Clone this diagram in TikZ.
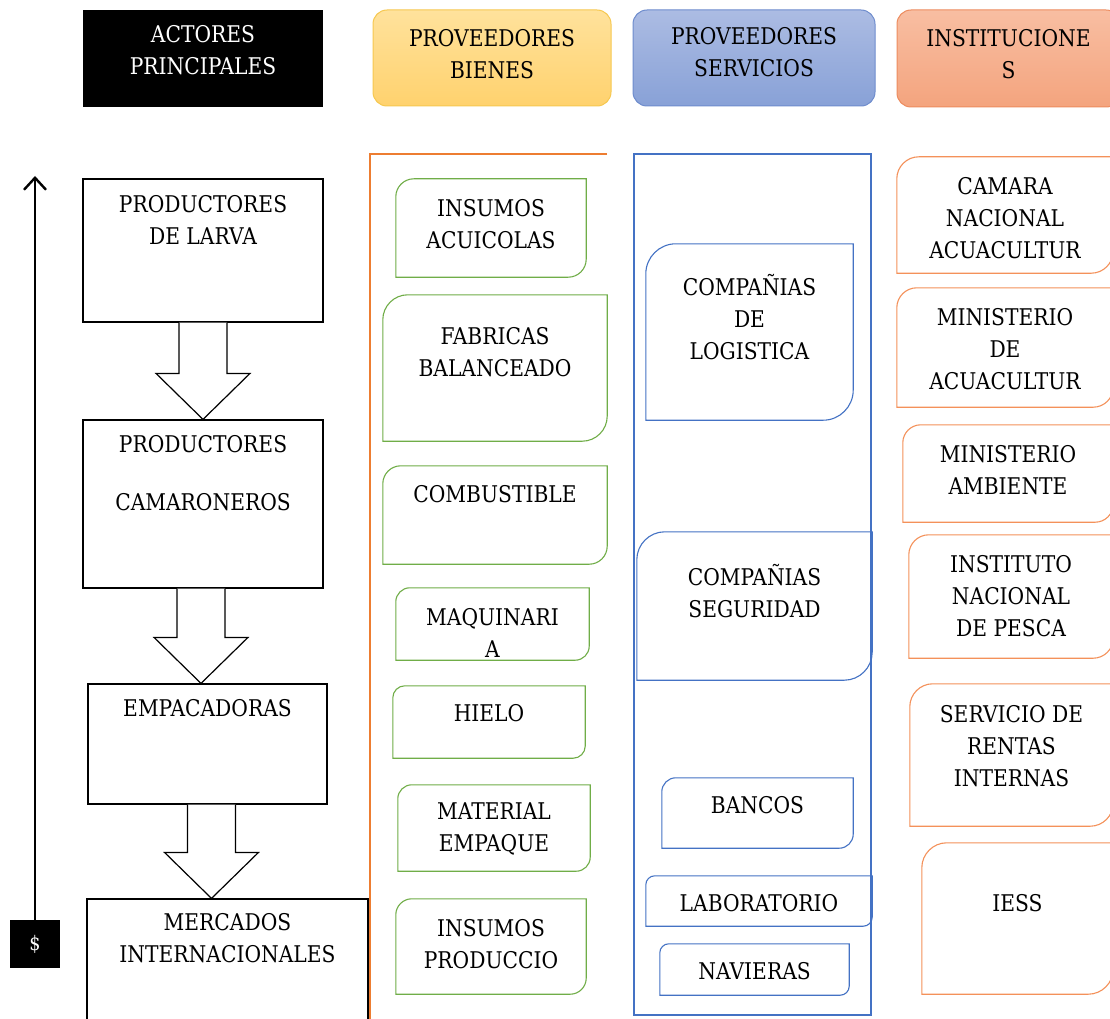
\documentclass[tikz,border=0pt]{standalone}
\usepackage{fontspec}
\setmainfont{DejaVu Serif}[FakeStretch=0.88]
\usetikzlibrary{calc,arrows.meta}

\definecolor{naranjo}{RGB}{237,125,49}
\definecolor{azulin}{RGB}{68,114,196}
\definecolor{verdin}{RGB}{112,173,71}
\definecolor{salmon}{RGB}{244,145,90}
\definecolor{amaA}{RGB}{255,226,156}
\definecolor{amaB}{RGB}{255,210,110}
\definecolor{amaL}{RGB}{246,200,80}
\definecolor{azuA}{RGB}{172,188,227}
\definecolor{azuB}{RGB}{136,161,215}
\definecolor{azuL}{RGB}{110,140,205}
\definecolor{narA}{RGB}{248,190,162}
\definecolor{narB}{RGB}{244,164,126}
\definecolor{narL}{RGB}{237,140,95}

\newcommand{\rotulo}{\fontsize{23}{32}\selectfont}

\begin{document}
\begin{tikzpicture}[
  x=1pt, y=-1pt,
  every label/.append style={align=center, inner sep=0pt, font=\rotulo},
  caja/.style 2 args={inner sep=0pt, minimum width=#1pt, minimum height=#2pt},
  actor/.style={draw, line width=1.2pt},
  titulo/.style={line width=1pt, rounded corners=14pt},
  gorda/.style={draw, fill=white, line width=1.2pt, line join=miter},
  verde/.style={draw=verdin, line width=1.1pt},
  azul/.style={draw=azulin, line width=1.1pt},
  naranja/.style={draw=salmon, line width=1.1pt}
  ]
  \useasboundingbox (0,0) rectangle (1110,1019);
  \fill[white] (0,0) rectangle (1110,1019);
  \clip (0,0) rectangle (1110,1019);

  % encabezados
  \node[caja={240}{97}, fill=black, label={[white,yshift=8pt]center:{ACTORES\\PRINCIPALES}}] (hact) at (203,58.5) {};
  \node[caja={238}{96}, titulo, top color=amaA, bottom color=amaB, draw=amaL, label={[yshift=4pt]center:{PROVEEDORES\\BIENES}}] (hbie) at (492,58) {};
  \node[caja={242}{96}, titulo, top color=azuA, bottom color=azuB, draw=azuL, label={[yshift=5.5pt]center:{PROVEEDORES\\SERVICIOS}}] (hser) at (754,58) {};
  \node[caja={223}{97}, titulo, top color=narA, bottom color=narB, draw=narL, label={[yshift=4.5pt]center:{INSTITUCIONE\\S}}] (hins) at (1008.5,58.5) {};

  % actores principales
  \node[caja={240}{143}, actor, label={[yshift=30.5pt]center:{PRODUCTORES\\DE LARVA}}] (larva) at (203,250.5) {};
  \node[caja={240}{168}, actor, label={[yshift=31pt]center:{PRODUCTORES\\[26pt]CAMARONEROS}}] (cama) at (203,504) {};
  \node[caja={239}{120}, actor, label={[yshift=36pt]center:EMPACADORAS}] (empa) at (207.5,744) {};
  \node[caja={281}{131}, actor, label={[yshift=26.5pt]center:{MERCADOS\\INTERNACIONALES}}] (merc) at (227.5,964.5) {};

  \foreach \a/\b/\dx in {larva/cama/0, cama/empa/-2, empa/merc/4}
    \draw[gorda] let \p1=([xshift=\dx pt]\a.south), \p2=(\b.north) in
      (\x1-24pt,\y1) -- (\x1-24pt,\y2+46pt) -- (\x1-47pt,\y2+46pt) -- (\x1,\y2)
      -- (\x1+47pt,\y2+46pt) -- (\x1+24pt,\y2+46pt) -- (\x1+24pt,\y1);

  \node[caja={50}{48}, fill=black, text=white, font=\fontsize{20}{24}\selectfont] (dolar) at (35,944) {\$};
  \coordinate (cima) at (35,176);
  \draw[line width=2.4pt, -{Straight Barb[length=12pt,width=22pt]}] (dolar) -- (cima);

  % columnas
  \draw[draw=naranjo, line width=1.4pt] (607,154) -- (370,154) -- (370,1025);
  \draw[draw=azulin, line width=1.4pt] (634,154) rectangle (871,1015);

  % proveedores bienes
  \node[caja={190}{98}, label={[yshift=4pt]center:{INSUMOS\\ACUICOLAS}}] (acui) at (491,228) {};
  \node[caja={224}{146}, label={[yshift=16pt]center:{FABRICAS\\BALANCEADO}}] (fabri) at (495,368) {};
  \node[caja={224}{98}, label={[yshift=21pt]center:COMBUSTIBLE}] (combus) at (495,515) {};
  \node[caja={193}{72}, label={[yshift=-9pt]center:{MAQUINARI\\A}}] (maqui) at (492.5,624) {};
  \node[caja={192}{72}, label={[yshift=9pt]center:HIELO}] (hielo) at (489,722) {};
  \node[caja={192}{86}, label={[yshift=-1pt]center:{MATERIAL\\EMPAQUE}}] (empaq) at (494,828) {};
  \node[caja={190}{95}, label={[yshift=2.5pt]center:{INSUMOS\\PRODUCCIO}}] (produc) at (491,946.5) {};

  % proveedores servicios
  \node[caja={207}{176}, label={[yshift=15pt]center:{COMPAÑIAS\\DE\\LOGISTICA}}] (logis) at (749.5,332) {};
  \node[caja={235}{148}, label={[yshift=15pt]center:{COMPAÑIAS\\SEGURIDAD}}] (segur) at (754.5,606) {};
  \node[caja={191}{70}, label={[yshift=8pt]center:BANCOS}] (bancos) at (757.5,813) {};
  \node[caja={226}{50}, label={[yshift=-2pt]center:LABORATORIO}] (labo) at (759,901) {};
  \node[caja={189}{51}, label={[yshift=-1.5pt]center:NAVIERAS}] (navi) at (754.5,969.5) {};

  % instituciones
  \node[caja={216}{116}, label={[yshift=-3pt]center:{CAMARA\\NACIONAL\\ACUACULTUR}}] (cnac) at (1005,215) {};
  \node[caja={216}{119}, label={[yshift=-1.5pt]center:{MINISTERIO\\DE\\ACUACULTUR}}] (mina) at (1005,347.5) {};
  \node[caja={210}{97}, label={[yshift=3.5pt]center:{MINISTERIO\\AMBIENTE}}] (mamb) at (1008,473.5) {};
  \node[caja={204}{123}, label={center:{INSTITUTO\\NACIONAL\\DE PESCA}}] (inp) at (1011,596.5) {};
  \node[caja={203}{142}, label={[yshift=9pt]center:{SERVICIO DE\\RENTAS\\INTERNAS}}] (sri) at (1011.5,755) {};
  \node[caja={191}{151}, label={[yshift=15.5pt]center:IESS}] (iess) at (1017.5,918.5) {};

  % marcos de esquinas redondeadas
  \foreach \n/\r/\c [evaluate=\r as \k using 0.45*\r] in {acui/18/verde, fabri/25/verde,
      combus/18/verde, maqui/14/verde, hielo/12/verde, empaq/14/verde, produc/16/verde,
      logis/30/azul, segur/28/azul, bancos/14/azul, labo/9/azul, navi/9/azul,
      cnac/22/naranja, mina/20/naranja, mamb/18/naranja, inp/20/naranja,
      sri/23/naranja, iess/25/naranja}
    \draw[\c] (\n.south west) -- ([yshift=-\r pt]\n.north west)
      .. controls ([yshift=-\k pt]\n.north west) and ([xshift=\k pt]\n.north west)
      .. ([xshift=\r pt]\n.north west)
      -- (\n.north east) -- ([yshift=\r pt]\n.south east)
      .. controls ([yshift=\k pt]\n.south east) and ([xshift=-\k pt]\n.south east)
      .. ([xshift=-\r pt]\n.south east) -- cycle;
\end{tikzpicture}
\end{document}
